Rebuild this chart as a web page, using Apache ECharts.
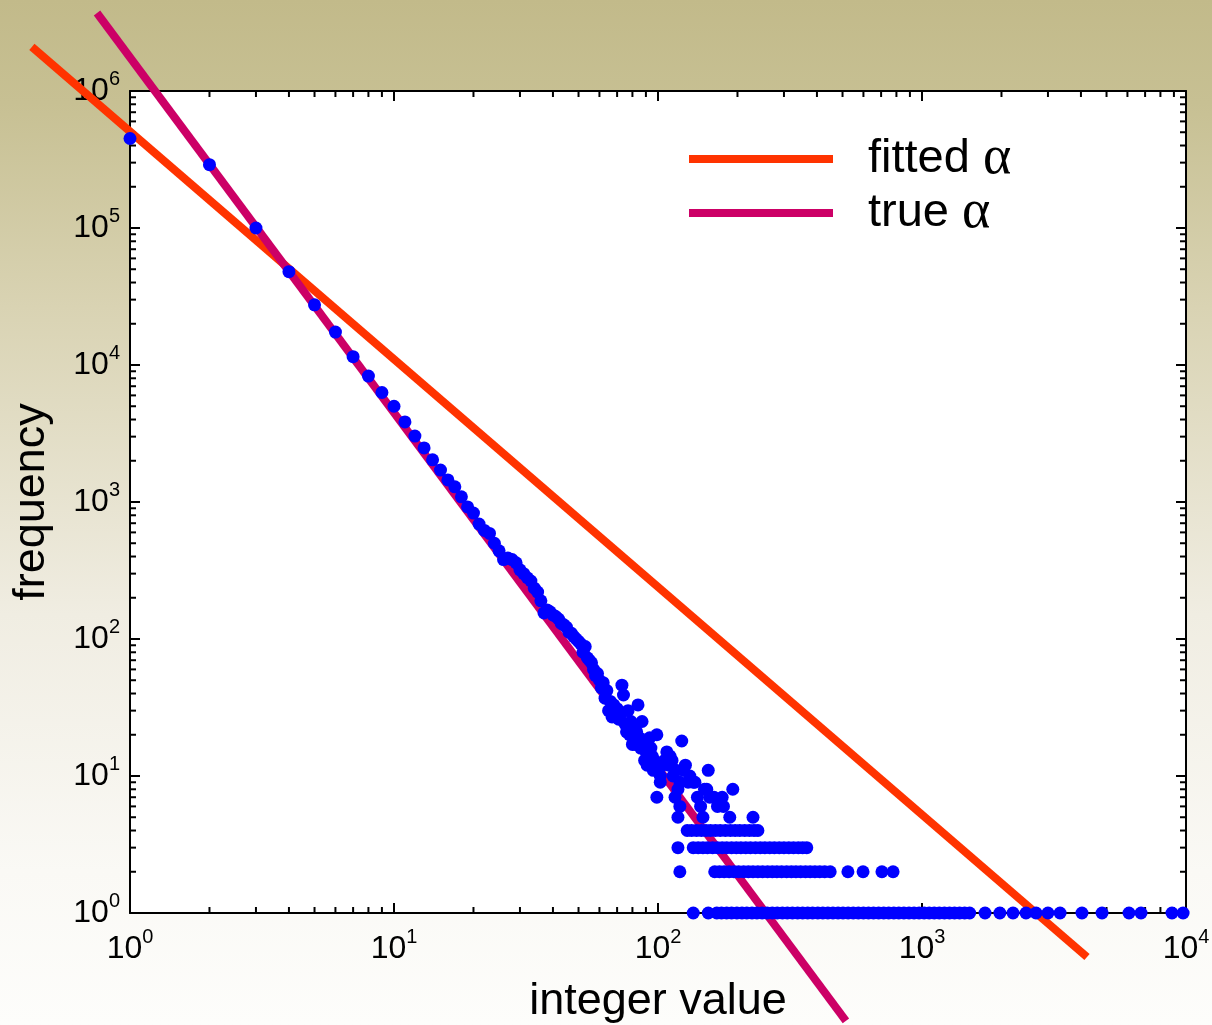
<!DOCTYPE html>
<html>
<head>
<meta charset="utf-8">
<script src="https://cdn.jsdelivr.net/npm/echarts@6/dist/echarts.min.js"></script>
<style>
    html, body { margin: 0; padding: 0; }
    #chart { width: 1212px; height: 1025px; }
</style>
</head>
<body>
<div id="chart"></div>
<script>
// integer values 1..50, one point each
const seqX = [1, 2, 3, 4, 5, 6, 7, 8, 9, 10, 11, 12, 13, 14, 15, 16, 17, 18, 19, 20,
    21, 22, 23, 24, 25, 26, 27, 28, 29, 30, 31, 32, 33, 34, 35, 36, 37, 38, 39, 40,
    41, 42, 43, 44, 45, 46, 47, 48, 49, 50];
const seqFreq = [450000, 290000, 100000, 48000, 27500, 17400, 11500, 8300, 6300, 5000,
    3840, 3030, 2480, 2030, 1710, 1450, 1290, 1090, 920, 830,
    690, 620, 590, 500, 440, 380, 390, 380, 360, 320,
    300, 280, 265, 235, 220, 190, 155, 163, 158, 150,
    146, 140, 130, 127, 122, 112, 110, 104, 100, 96];

// noisy cloud 51..200
const cloudX = [51, 52, 53, 54, 55, 56, 57, 58, 59, 60, 61, 62, 63, 64, 65, 66, 67, 68, 69, 70,
    71, 72, 73, 74, 75, 76, 77, 78, 79, 80, 81, 82, 83, 84, 85, 86, 87, 88, 89, 90,
    91, 92, 93, 94, 95, 96, 97, 99, 99, 100, 102, 102, 104, 106, 108, 110, 111, 113, 114, 116,
    117, 119, 121, 121, 123, 125, 127, 130, 132, 136, 138, 141, 145, 150, 153, 155, 157, 163, 168, 175,
    177, 192];
const cloudFreq = [92, 80, 88, 73, 70, 67, 60, 54, 56, 50, 44, 48, 37, 42, 30, 35, 27, 33, 29, 31,
    26, 28, 46, 39, 24, 21, 30, 20, 25, 17, 23, 17, 21, 33, 19, 16, 25, 18, 13, 15,
    12, 14, 19, 16, 14, 11, 13, 20, 7, 11, 10, 9, 12, 13, 15, 12, 14, 13, 10, 7,
    11, 8, 9, 6, 18, 11, 12, 9, 10, 9, 9, 7, 6, 8, 8, 11, 7, 7, 6, 7,
    6, 8];

// rows of equal frequency (5, 4, 3, 2, 1)
const band5X = [119, 148, 187, 229];
const band4X = [129, 134, 140, 146, 152, 158, 165, 172, 180, 188, 196, 204, 213, 222, 231, 239];
const band3X = [119, 136, 142, 148, 154, 161, 168, 175, 182, 190, 198, 206, 215, 224, 234, 244,
    254, 265, 276, 288, 300, 313, 326, 340, 353, 366];
const band2X = [121, 164, 171, 178, 186, 194, 202, 211, 220, 229, 239, 249, 260, 271, 282, 294,
    307, 320, 333, 347, 362, 377, 393, 410, 428, 449, 524, 598, 705, 777];
const band1X = [136, 155, 167, 174, 182, 190, 199, 208, 217, 227, 237, 248, 259, 271, 283, 296,
    309, 323, 338, 353, 369, 385, 403, 421, 440, 460, 481, 502, 525, 549, 574, 600,
    627, 655, 685, 716, 748, 782, 817, 854, 893, 933, 975, 1019, 1065, 1113, 1163, 1216,
    1271, 1328, 1388, 1450, 1515, 1733, 1972, 2212, 2477, 2704, 3000, 3334, 4036, 4808,
    6083, 6755, 8850, 9750];

// the two power-law lines (end points)
const fittedX = [0.425, 4217];
const fittedY = [2.1e6, 0.477];
const trueX = [0.75, 515];
const trueY = [3.71e6, 0.163];

const xTicks = [1, 10, 100, 1000, 10000];
const yTicks = [1, 10, 100, 1000, 10000, 100000, 1000000];

const font = 'Liberation Sans, Arial, sans-serif';

const points = [];
for (let i = 0; i < seqX.length; i++) points.push([seqX[i], seqFreq[i]]);
for (let i = 0; i < cloudX.length; i++) points.push([cloudX[i], cloudFreq[i]]);
const bands = [[band5X, 5], [band4X, 4], [band3X, 3], [band2X, 2], [band1X, 1]];
bands.forEach(b => {
    b[0].forEach(x => points.push([x, b[1]]));
});

function powLabel(value) {
    return '{b|10}{e|' + Math.round(Math.log10(value)) + '}';
}
const powRich = {
    b: { fontSize: 32, lineHeight: 44, color: '#000', fontFamily: font },
    e: { fontSize: 20, lineHeight: 14, verticalAlign: 'top', color: '#000', fontFamily: font }
};

function logAxis(min, max, split, pos, main) {
    return {
        type: 'log',
        logBase: 10,
        min: min,
        max: max,
        splitNumber: split,
        position: pos,
        gridIndex: 0,
        axisLine: { show: true, onZero: false, lineStyle: { color: '#000', width: 2 } },
        axisTick: { show: true, inside: true, length: 10, lineStyle: { color: '#000', width: 2 } },
        minorTick: { show: false },
        splitLine: { show: false },
        axisLabel: main ? {
            show: true,
            formatter: powLabel,
            rich: powRich,
            showMinLabel: true,
            showMaxLabel: true,
            color: '#000'
        } : { show: false }
    };
}

const xMain = logAxis(1, 10000, 4, 'bottom', true);
xMain.axisLabel.margin = 14;
xMain.name = 'integer value';
xMain.nameLocation = 'middle';
xMain.nameGap = 66;
xMain.nameMoveOverlap = false;
xMain.nameTextStyle = { fontSize: 45, color: '#000', fontFamily: font };

const yMain = logAxis(1, 1000000, 6, 'left', true);
yMain.axisLabel.margin = 10;
yMain.name = 'frequency';
yMain.nameLocation = 'middle';
yMain.nameGap = 76;
yMain.nameMoveOverlap = false;
yMain.nameTextStyle = { fontSize: 45, color: '#000', fontFamily: font };

// straight segment drawn through the axes' own scales, not clipped to the grid
function segmentSeries(name, xs, ys, color) {
    return {
        type: 'custom',
        name: name,
        clip: false,
        data: [[xs[0], ys[0], xs[1], ys[1]]],
        encode: { x: [0, 2], y: [1, 3] },
        itemStyle: { color: color },
        renderItem: function (params, api) {
            const p1 = api.coord([api.value(0), api.value(1)]);
            const p2 = api.coord([api.value(2), api.value(3)]);
            return {
                type: 'line',
                shape: { x1: p1[0], y1: p1[1], x2: p2[0], y2: p2[1] },
                style: { stroke: color, lineWidth: 8 }
            };
        }
    };
}

const option = {
    animation: false,
    backgroundColor: {
        type: 'linear', x: 0, y: 0, x2: 0, y2: 1,
        colorStops: [
            { offset: 0, color: '#C2BA8A' },
            { offset: 0.1, color: '#C7C093' },
            { offset: 0.3, color: '#D9D3B3' },
            { offset: 0.6, color: '#F0EDE2' },
            { offset: 0.85, color: '#FAF9F5' },
            { offset: 1, color: '#FDFDFB' }
        ]
    },
    grid: {
        left: 130, right: 26, top: 91, bottom: 112,
        show: true,
        backgroundColor: '#fff',
        borderWidth: 0,
        outerBoundsMode: 'none'
    },
    legend: {
        data: ['fitted α', 'true α'],
        orient: 'vertical',
        left: 689,
        top: 132,
        padding: 0,
        itemGap: 0,
        itemWidth: 144,
        itemHeight: 8,
        icon: 'rect',
        selectedMode: false,
        formatter: function (name) {
            const p = name.split(' ');
            return '{t|' + p[0] + ' }{a|' + p[1] + '}';
        },
        textStyle: {
            fontSize: 47,
            lineHeight: 49,
            color: '#000',
            fontFamily: font,
            rich: {
                t: { fontSize: 47, lineHeight: 49, color: '#000', fontFamily: font, padding: [0, 0, 0, 30] },
                a: { fontSize: 54, lineHeight: 49, color: '#000', fontFamily: 'Liberation Serif, Times New Roman, serif' }
            }
        }
    },
    xAxis: [xMain, logAxis(1, 10000, 4, 'top', false)],
    yAxis: [yMain, logAxis(1, 1000000, 6, 'right', false)],
    series: [
        {
            type: 'scatter',
            name: 'data',
            data: points,
            symbol: 'circle',
            symbolSize: 13,
            clip: false,
            itemStyle: { color: '#0000FF', opacity: 1 }
        },
        segmentSeries('fitted α', fittedX, fittedY, '#FF3300'),
        segmentSeries('true α', trueX, trueY, '#CC0066')
    ]
};

const chart = echarts.init(document.getElementById('chart'), null, { renderer: 'canvas' });
chart.setOption(option);

// minor ticks at 2..9 of every decade, on all four sides
const gx0 = chart.convertToPixel({ xAxisIndex: 0 }, 1);
const gx1 = chart.convertToPixel({ xAxisIndex: 0 }, 10000);
const gy0 = chart.convertToPixel({ yAxisIndex: 0 }, 1);
const gy1 = chart.convertToPixel({ yAxisIndex: 0 }, 1000000);
const minor = [];
const tickStyle = { stroke: '#000', lineWidth: 2 };
function addTick(shape) {
    minor.push({ type: 'line', shape: shape, style: tickStyle, silent: true, z: 1 });
}
xTicks.slice(0, -1).forEach(d => {
    for (let m = 2; m <= 9; m++) {
        const px = chart.convertToPixel({ xAxisIndex: 0 }, m * d);
        addTick({ x1: px, y1: gy0, x2: px, y2: gy0 - 6 });
        addTick({ x1: px, y1: gy1, x2: px, y2: gy1 + 6 });
    }
});
yTicks.slice(0, -1).forEach(d => {
    for (let m = 2; m <= 9; m++) {
        const py = chart.convertToPixel({ yAxisIndex: 0 }, m * d);
        addTick({ x1: gx0, y1: py, x2: gx0 + 6, y2: py });
        addTick({ x1: gx1, y1: py, x2: gx1 - 6, y2: py });
    }
});
chart.setOption({ graphic: minor });
</script>
</body>
</html>
